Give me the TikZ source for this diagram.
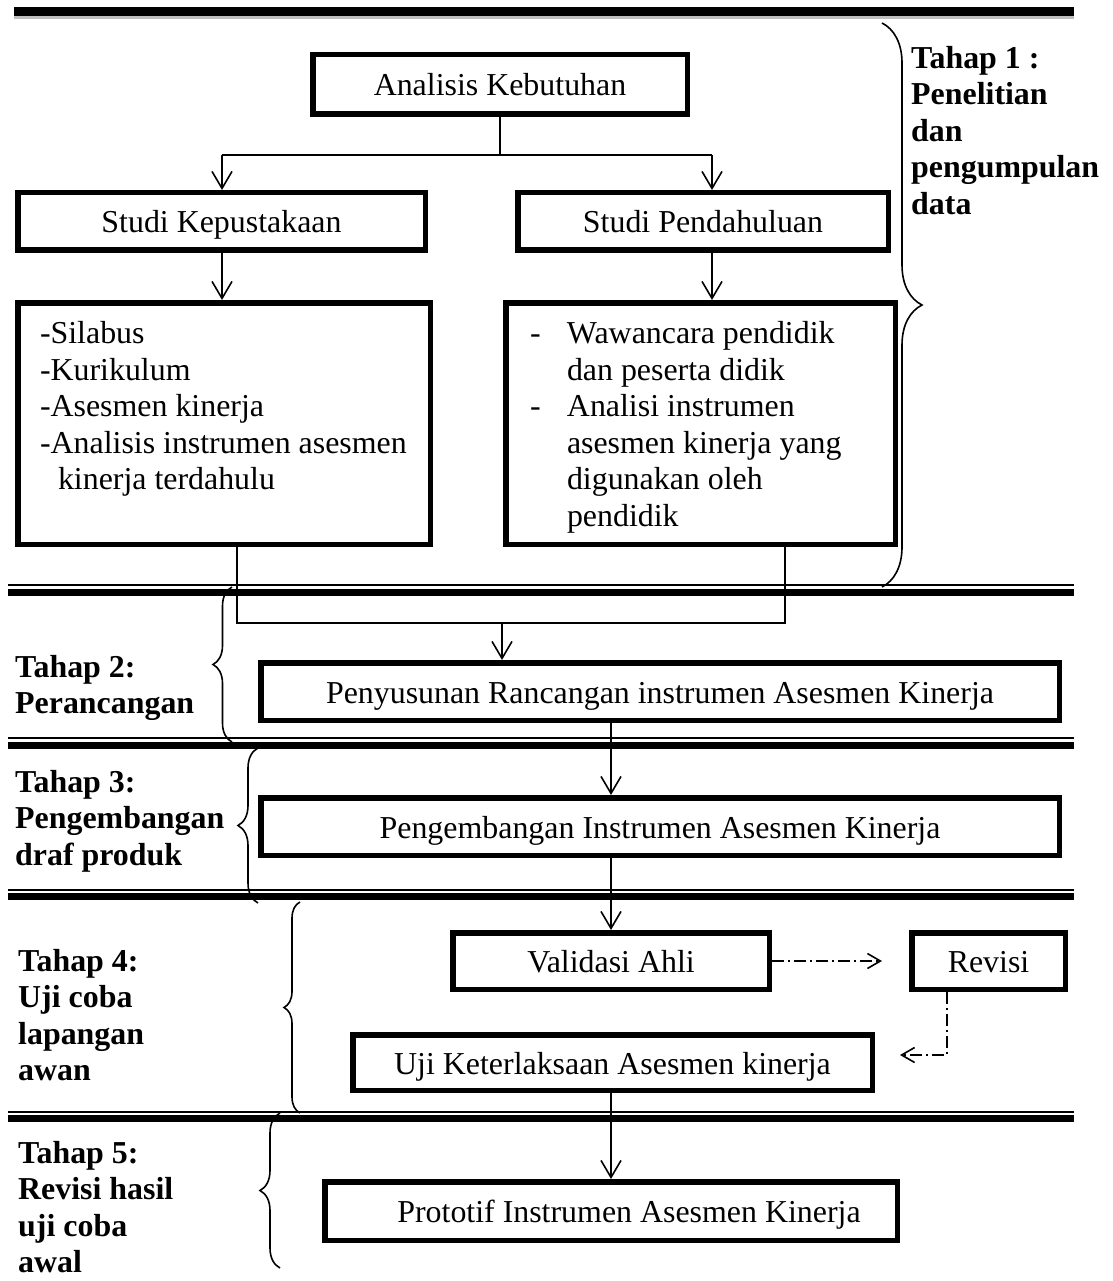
\documentclass[tikz,border=0pt]{standalone}
\usepackage{fontspec}
\setmainfont{Liberation Serif}
\usetikzlibrary{arrows.meta,decorations.pathreplacing}

\begin{document}
\begin{tikzpicture}[x=1pt,y=-1pt,
	font=\fontsize{31.9}{36.5}\selectfont,
	box/.style={draw,line width=5.5pt,inner sep=0pt,minimum height=57.5pt,text height=30pt,text depth=7pt},
	listbox/.style={draw,line width=5.5pt,inner sep=0pt},
	stage/.style={anchor=north west,align=left,inner sep=0pt,font=\fontsize{31.9}{36.5}\selectfont\bfseries},
	link/.style={line width=1.6pt},
	flow/.style={link,-{Straight Barb[length=17pt,width=20pt]}},
	dashflow/.style={link,dash pattern=on 12pt off 4pt on 2pt off 4pt,-{Straight Barb[length=13pt,width=15pt]}},
	rbrace/.style={link,decorate,decoration={brace,amplitude=#1}},
	lbrace/.style={link,decorate,decoration={brace,mirror,amplitude=#1}}]
	\useasboundingbox (0,0) rectangle (1112,1281);

	% rules between the stages
	\draw[line width=3pt,gray!50] (14,17.5) -- (1074,17.5);
	\draw[line width=9pt] (14,11.5) -- (1074,11.5);
	\foreach \ya/\yb in {585/592, 738/745, 890/896.5, 1112/1118.5} {
		\draw[line width=2pt] (8,\ya) -- (1074,\ya);
		\draw[line width=7pt] (8,\yb) -- (1074,\yb);
	};

	% stage 1
	\node[box,minimum width=374.5pt,minimum height=59.5pt] (kebutuhan) at (500,84.5) {Analisis Kebutuhan};
	\node[box,minimum width=407.5pt] (pustaka) at (221.5,221.5) {Studi Kepustakaan};
	\node[box,minimum width=370.5pt] (pendahuluan) at (703,221.5) {Studi Pendahuluan};
	\node[listbox] (pustakaList) at (224,423.5) {\parbox[c][241.5pt][t]{412.5pt}{\leftskip=22.25pt\rule{0pt}{40.75pt}-Silabus\\-Kurikulum\\-Asesmen kinerja\\-Analisis instrumen asesmen\\\hspace*{18pt}kinerja terdahulu}};
	\node[listbox] (pendahuluanList) at (700.5,423.5) {\parbox[c][241.5pt][t]{389.5pt}{\leftskip=61.25pt\rule{0pt}{40.75pt}\llap{\makebox[37pt][l]{-}}Wawancara pendidik\\dan peserta didik\\\llap{\makebox[37pt][l]{-}}Analisi instrumen\\asesmen kinerja yang\\digunakan oleh\\pendidik}};

	% stages 2 to 5
	\node[box,minimum width=798.5pt] (rancangan) at (660,691.5) {Penyusunan Rancangan instrumen Asesmen Kinerja};
	\node[box,minimum width=798.5pt] (pengembangan) at (660,826.5) {Pengembangan Instrumen Asesmen Kinerja};
	\node[box,minimum width=316.5pt,minimum height=56.5pt] (validasi) at (611,961) {Validasi Ahli};
	\node[box,minimum width=153.5pt,minimum height=56.5pt] (revisi) at (988.5,961) {Revisi};
	\node[box,minimum width=519.5pt,minimum height=55.5pt] (uji) at (612.5,1062.5) {Uji Keterlaksaan Asesmen kinerja};
	\node[box,minimum width=572.5pt,minimum height=58.5pt] (prototif) at (611,1211) {\hspace*{36pt}Prototif Instrumen Asesmen Kinerja};

	% stage names
	\node[stage] (tahap1) at (911,46) {Tahap 1 :\\Penelitian\\dan\\pengumpulan\\data};
	\node[stage] (tahap2) at (15,655) {Tahap 2:\\Perancangan};
	\node[stage] (tahap3) at (15,770) {Tahap 3:\\Pengembangan\\draf produk};
	\node[stage] (tahap4) at (18,949) {Tahap 4:\\Uji coba\\lapangan\\awan};
	\node[stage] (tahap5) at (18,1141) {Tahap 5:\\Revisi hasil\\uji coba\\awal};

	\draw[rbrace=40pt] (882,23) -- (882,587);
	\draw[lbrace=19pt] (232,587) -- (232,742);
	\draw[lbrace=20pt] (258,748) -- (258,903);
	\draw[lbrace=16pt] (300,902) -- (300,1113);
	\draw[lbrace=20pt] (280,1113) -- (280,1268);

	% connectors
	\coordinate (splitL) at (222,155);
	\coordinate (splitR) at (712,155);
	\coordinate (joinL) at (237,623);
	\coordinate (joinR) at (785,623);
	\coordinate (join) at (502,623);
	\coordinate (back) at (947,1055);
	\draw[link] (kebutuhan.south) -- (kebutuhan.south |- splitL);
	\draw[link] (splitL) -- (splitR);
	\draw[flow] (splitL) -- (splitL |- pustaka.north);
	\draw[flow] (splitR) -- (splitR |- pendahuluan.north);
	\draw[flow] (pustaka.south -| splitL) -- (pustakaList.north -| splitL);
	\draw[flow] (pendahuluan.south -| splitR) -- (pendahuluanList.north -| splitR);
	\draw[link] (pustakaList.south -| joinL) |- (joinR) -- (pendahuluanList.south -| joinR);
	\draw[flow] (join) -- (join |- rancangan.north);
	\draw[flow] (rancangan.south -| validasi) -- (pengembangan.north -| validasi);
	\draw[flow] (pengembangan.south -| validasi) -- (validasi.north);
	\draw[dashflow,shorten >=27pt] (validasi.east) -- (revisi.west);
	\draw[dashflow,shorten >=25pt] (revisi.south -| back) -- (back) -- (back -| uji.east);
	\draw[flow] (uji.south -| validasi) -- (prototif.north -| validasi);
\end{tikzpicture}
\end{document}
